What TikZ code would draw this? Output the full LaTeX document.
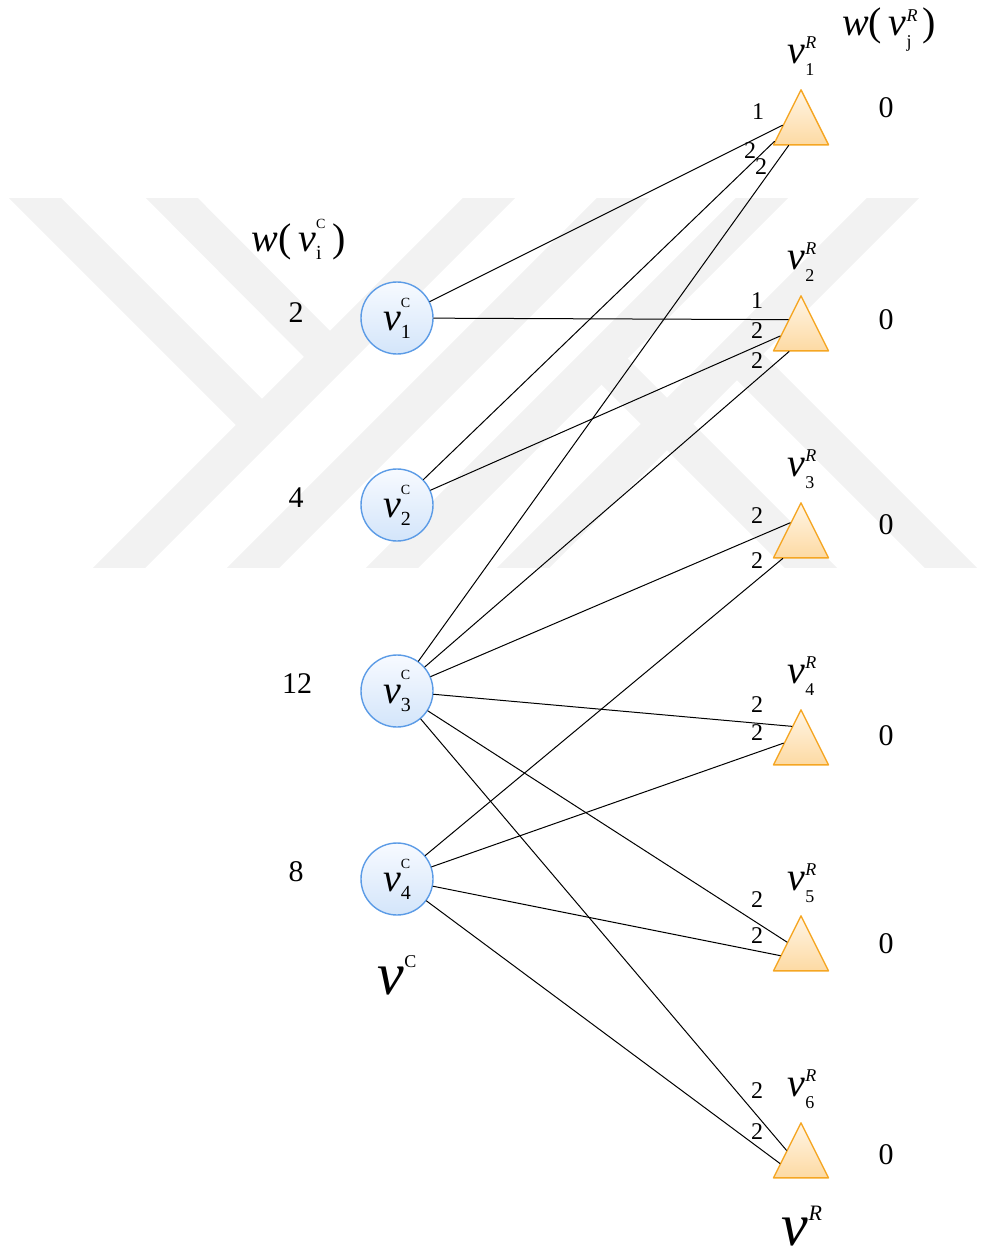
\documentclass[tikz,border=0pt]{standalone}
\usepackage{fontspec}
\setmainfont{Liberation Serif}
\usetikzlibrary{shapes.geometric,positioning}
\definecolor{cblue}{HTML}{5B9BE6}
\definecolor{ctop}{HTML}{F7FAFF}
\definecolor{cbot}{HTML}{D3E5FA}
\definecolor{rorange}{HTML}{F5A623}
\definecolor{rtop}{HTML}{FFF5E6}
\definecolor{rbot}{HTML}{FDDAA3}
\definecolor{wmark}{HTML}{F2F2F2}
% v with stacked scripts
\newcommand{\vC}[1]{\textit{v}\makebox[0pt][l]{\raisebox{0.58em}{\fontsize{7}{7}\selectfont C}}\raisebox{-0.2em}{\fontsize{10}{10}\selectfont #1}}
\newcommand{\vR}[1]{\textit{v}\makebox[0pt][l]{\raisebox{0.36em}{\fontsize{9}{9}\selectfont\textit{R}}}\raisebox{-0.3em}{\fontsize{9}{9}\selectfont #1}}

\begin{document}
\begin{tikzpicture}[x=0.5pt,y=-0.5pt,line cap=round,line join=round,
  cnode/.style={circle,draw=cblue,line width=0.7pt,top color=ctop,bottom color=cbot,minimum size=36pt,inner sep=0pt,font=\fontsize{20}{20}\selectfont},
  rnode/.style={isosceles triangle,isosceles triangle stretches,shape border rotate=90,draw=rorange,line width=0.7pt,top color=rtop,bottom color=rbot,minimum width=27.5pt,minimum height=27.5pt,inner sep=0pt,anchor=apex},
  edge/.style={black,line width=0.5pt},
  elab/.style={font=\fontsize{12}{12}\selectfont,inner sep=0pt},
  wlab/.style={font=\fontsize{15}{15}\selectfont,inner sep=0pt},
  vlab/.style={font=\fontsize{20}{20}\selectfont,inner sep=0pt},
  band/.style={draw=wmark,line width=18.4pt,line cap=butt}]
\path[use as bounding box] (0,0) rectangle (980,1253);

% watermark
\begin{scope}
\clip (0,198) rectangle (980,567);
\draw[band] (519,168) -- (89,598);
\draw[band] (653,168) -- (223,598);
\draw[band] (792,168) -- (362,598);
\draw[band] (923,168) -- (493,598);
\draw[band] (5,168) -- (262,425);
\draw[band] (142,168) -- (330,357);
\draw[band] (601,358) -- (851,608);
\draw[band] (737,354) -- (987,604);
\end{scope}

% weight headers
\node[font=\fontsize{20}{20}\selectfont,inner sep=0pt] (wc) at (299,240) {\textit{w}(\,\vC{i}\;)};
\node[font=\fontsize{20}{20}\selectfont,inner sep=0pt] (wr) at (889,30) {\textit{w}(\,\vR{j}\;)};

% column nodes
\node[cnode] (c1) at (397,318) {\vC{1}};
\node[cnode] (c2) at (397,505) {\vC{2}};
\node[cnode] (c3) at (397,691) {\vC{3}};
\node[cnode] (c4) at (397,879) {\vC{4}};
\node[wlab] (wc1) at (296,313) {2};
\node[wlab] (wc2) at (296,498) {4};
\node[wlab] (wc3) at (297,684) {12};
\node[wlab] (wc4) at (296,872) {8};

% row nodes
\node[rnode] (r1) at (801,88) {};
\node[rnode] (r2) at (801,294) {};
\node[rnode] (r3) at (801,501) {};
\node[rnode] (r4) at (801,708) {};
\node[rnode] (r5) at (801,914) {};
\node[rnode] (r6) at (801,1121) {};
\node[vlab] (t1) at (801,56) {\vR{1}};
\node[vlab] (t2) at (801,262) {\vR{2}};
\node[vlab] (t3) at (801,469) {\vR{3}};
\node[vlab] (t4) at (801,676) {\vR{4}};
\node[vlab] (t5) at (801,883) {\vR{5}};
\node[vlab] (t6) at (801,1089) {\vR{6}};
\node[wlab] (wr1) at (886,108) {0};
\node[wlab] (wr2) at (886,320) {0};
\node[wlab] (wr3) at (886,525) {0};
\node[wlab] (wr4) at (886,736) {0};
\node[wlab] (wr5) at (886,944) {0};
\node[wlab] (wr6) at (886,1155) {0};

% set names
\node[font=\fontsize{30}{30}\selectfont,inner sep=0pt] (setc) at (397,975) {\textit{v}\raisebox{0.45em}{\fontsize{9}{9}\selectfont C}};
\node[font=\fontsize{30}{30}\selectfont,inner sep=0pt] (setr) at (802,1226) {\textit{v}\raisebox{0.42em}{\fontsize{11}{11}\selectfont\textit{R}}};

% edges, ending on the left side of each triangle
\draw[edge] (c1) -- (r1.172);
\draw[edge] (c1) -- (r2.132);
\draw[edge] (c2) -- (r1.207);
\draw[edge] (c2) -- (r2.186);
\draw[edge] (c3) -- (r1.235);
\draw[edge] (c3) -- (r2.236);
\draw[edge] (c3) -- (r3.121);
\draw[edge] (c3) -- (r4.113);
\draw[edge] (c3) -- (r5.140);
\draw[edge] (c3) -- (r6.144);
\draw[edge] (c4) -- (r3.224);
\draw[edge] (c4) -- (r4.165);
\draw[edge] (c4) -- (r5.185);
\draw[edge] (c4) -- (r6.187);

% edge weights
\node[elab] (e11) at (758,112) {1};
\node[elab] (e21) at (750,151) {2};
\node[elab] (e31) at (761,167) {2};
\node[elab] (e12) at (757,301) {1};
\node[elab] (e22) at (757,331) {2};
\node[elab] (e32) at (757,361) {2};
\node[elab] (e33) at (757,516) {2};
\node[elab] (e43) at (757,561) {2};
\node[elab] (e34) at (757,705) {2};
\node[elab] (e44) at (757,733) {2};
\node[elab] (e35) at (757,900) {2};
\node[elab] (e45) at (757,936) {2};
\node[elab] (e36) at (757,1091) {2};
\node[elab] (e46) at (757,1132) {2};
\end{tikzpicture}
\end{document}
